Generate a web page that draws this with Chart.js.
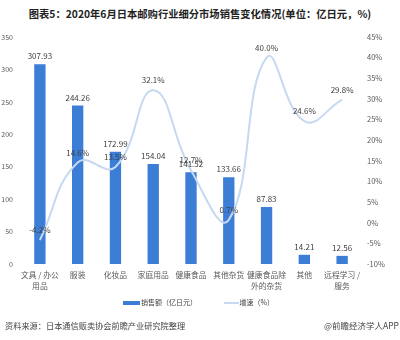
<!DOCTYPE html>
<html>
<head>
<meta charset="utf-8">
<script src="https://cdn.jsdelivr.net/npm/chart.js@4/dist/chart.umd.min.js"></script>
<style>
  html, body { margin: 0; padding: 0; background: #fff; }
  body { width: 400px; height: 340px; position: relative; overflow: hidden; font-family: "Noto Sans CJK SC", "Noto Sans", sans-serif; }
  #title { position: absolute; top: 6px; left: 0; width: 400px; text-align: center; font-weight: bold; font-size: 10.3px; color: #222; }
  #wrap { position: absolute; top: 0; left: 0; width: 400px; height: 300px; }
  #legend { position: absolute; top: 297px; left: 123px; font-size: 7px; color: #444; white-space: nowrap; }
  #legend span.item { display: inline-block; }
  #legend span.item + span.item { margin-left: 25px; }
  #legend i { display: inline-block; vertical-align: middle; margin-right: 1px; }
  #src { position: absolute; top: 319px; left: 5px; font-size: 8.2px; color: #444; }
  #app { position: absolute; top: 319px; right: 1px; font-size: 8.5px; color: #444; }
</style>
</head>
<body>
<div id="title">图表5：2020年6月日本邮购行业细分市场销售变化情况(单位：亿日元，%)</div>
<div id="wrap"><canvas id="c"></canvas></div>
<div id="legend">
  <span class="item"><i style="width:17px;height:4px;background:#3c7dd6"></i>销售额（亿日元）</span>
  <span class="item"><i style="width:15px;height:1.5px;background:#c6d9f0"></i>增速（%）</span>
</div>
<div id="src">资料来源：日本通信贩卖协会前瞻产业研究院整理</div>
<div id="app">@前瞻经济学人APP</div>
<script>
(function () {
    "use strict";

    const categories = [["文具 / 办公", "用品"], "服装", "化妆品", "家庭用品", "健康食品", "其他杂货", ["健康食品除", "外的杂货"], "其他", ["远程学习 /", "服务"]];
    const sales = [307.93, 244.26, 172.99, 154.04, 141.52, 133.66, 87.83, 14.21, 12.56];
    const growth = [-4.2, 14.6, 13.5, 32.1, 12.7, 0.7, 40.0, 24.6, 29.8];

    const barColor = "#3c7dd6";
    const lineColor = "#c6d9f0";
    const tickColor = "#595959";
    const font = "Noto Sans CJK SC";

    // value labels above bars and above line points
    const valueLabels = {
        id: "valueLabels",
        afterDatasetsDraw(chart) {
            const ctx = chart.ctx;
            ctx.save();
            ctx.font = `8px "${font}"`;
            ctx.fillStyle = "#404040";
            ctx.textAlign = "center";
            ctx.textBaseline = "bottom";
            chart.getDatasetMeta(1).data.forEach((el, i) => {
                ctx.fillText(sales[i].toFixed(2), el.x, el.y - 4);
            });
            chart.getDatasetMeta(0).data.forEach((el, i) => {
                ctx.fillText(growth[i].toFixed(1) + "%", el.x, el.y - 6);
            });
            ctx.restore();
        },
    };

    const noGrid = { display: false, drawTicks: false };

    new Chart(document.getElementById("c"), {
        data: {
            labels: categories,
            datasets: [
                { type: "line", label: "增速（%）", data: growth, yAxisID: "y1", borderColor: lineColor, borderWidth: 2, tension: 0.45, pointRadius: 0, order: 0 },
                { type: "bar", label: "销售额（亿日元）", data: sales, yAxisID: "y", backgroundColor: barColor, categoryPercentage: 1, barPercentage: 0.3, order: 1 },
            ],
        },
        options: {
            responsive: true,
            maintainAspectRatio: false,
            animation: false,
            layout: { padding: { top: 37, left: 0, right: 0, bottom: 0 } },
            plugins: { legend: { display: false }, tooltip: { enabled: false } },
            scales: {
                x: {
                    grid: noGrid,
                    border: { display: false },
                    ticks: { color: tickColor, font: { family: font, size: 7.8, lineHeight: 1.35 }, maxRotation: 0, autoSkip: false, padding: 6 },
                    afterFit: (s) => { s.height = 36; },
                },
                y: {
                    position: "left",
                    min: 0, max: 350,
                    grid: noGrid,
                    border: { display: false },
                    ticks: { stepSize: 50, color: tickColor, font: { family: font, size: 7 }, padding: 8 },
                    afterFit: (s) => { s.width = 21; },
                },
                y1: {
                    position: "right",
                    min: -10, max: 45,
                    grid: noGrid,
                    border: { display: false },
                    ticks: { stepSize: 5, color: tickColor, font: { family: font, size: 7.5 }, padding: 6, callback: (v) => v + "%" },
                    afterFit: (s) => { s.width = 39; },
                },
            },
        },
        plugins: [valueLabels],
    });
})();
</script>
</body>
</html>
